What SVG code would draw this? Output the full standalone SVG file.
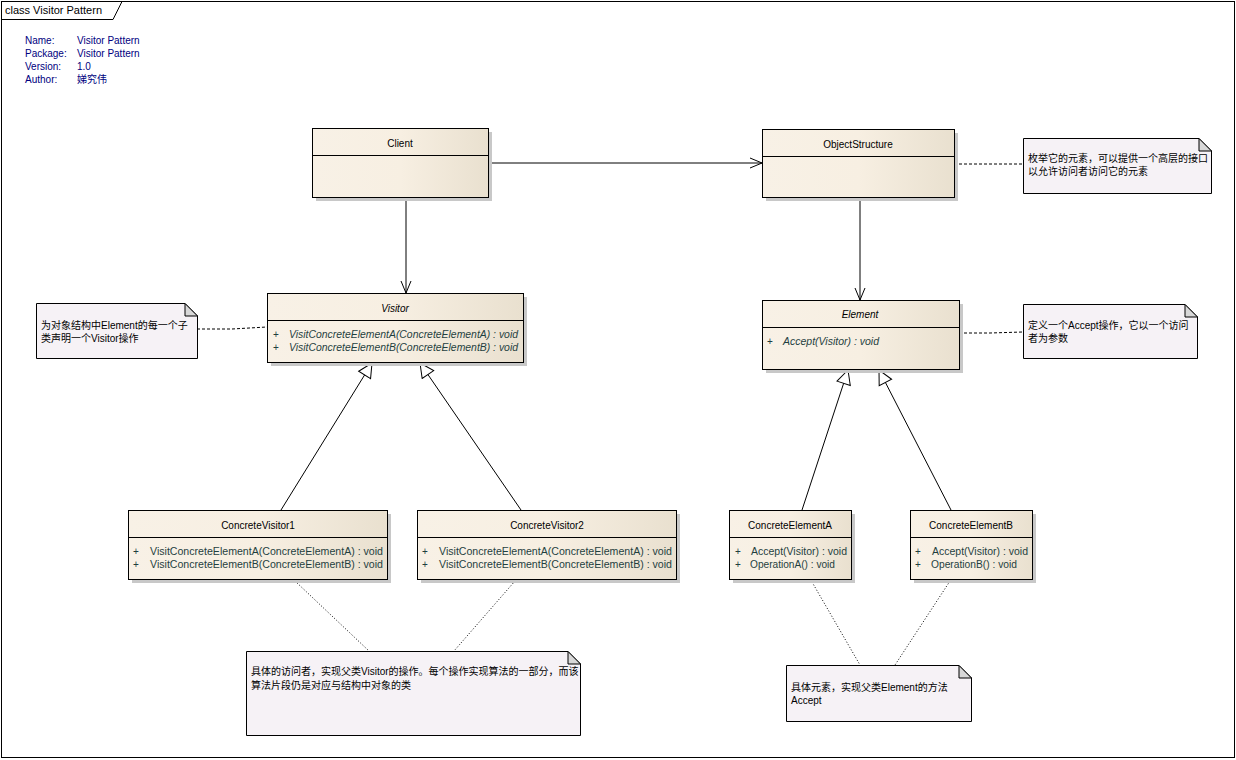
<svg xmlns="http://www.w3.org/2000/svg" width="1236" height="760" viewBox="0 0 1236 760">
<defs>
<linearGradient id="cls" x1="0" y1="0" x2="1" y2="0">
<stop offset="0" stop-color="#f8f1e6"/>
<stop offset="0.5" stop-color="#f7efe2"/>
<stop offset="1" stop-color="#e9e0cf"/>
</linearGradient>
<marker id="open" viewBox="0 0 12 12" refX="12" refY="6" markerWidth="12" markerHeight="12" markerUnits="userSpaceOnUse" orient="auto">
<path d="M0,1 L12,6 L0,11" fill="none" stroke="#000" stroke-width="1"/>
</marker>
<marker id="tri" viewBox="0 0 16 16" refX="15" refY="8" markerWidth="16" markerHeight="16" markerUnits="userSpaceOnUse" orient="auto">
<path d="M1,1 L15,8 L1,15 Z" fill="#fff" stroke="#000" stroke-width="1"/>
</marker>
</defs>
<style>
text{font-family:"Liberation Sans","DejaVu Sans","Noto Sans CJK SC",sans-serif;font-size:10px}
.t{fill:#000}
.ti{fill:#000;font-style:italic}
.op{fill:#1f3f3f}
.opi{fill:#1f3f3f;font-style:italic}
.info{fill:#000080}
.note text{fill:#000}
.box{fill:url(#cls);stroke:#000;stroke-width:1}
.sh{fill:#c8c8c8}
.div{stroke:#000;stroke-width:1}
.nf{fill:#f6f2f6;stroke:#000;stroke-width:1}
.ear{fill:#d8d8d8;stroke:#000;stroke-width:1}
.assoc{stroke:#000;stroke-width:1;fill:none;marker-end:url(#open)}
.gen{stroke:#000;stroke-width:1;fill:none;marker-end:url(#tri)}
.nl{stroke:#000;stroke-width:1;fill:none;stroke-dasharray:3,2}
.dl{stroke:#000;stroke-width:1;fill:none;stroke-dasharray:1,2}
</style>
<rect x="0" y="0" width="1236" height="760" fill="#fff"/>
<g id="frame">
<rect x="1.5" y="1.5" width="1233" height="756" fill="none" stroke="#000"/>
<path d="M1.5,19.5 H113 L122,1.5" fill="none" stroke="#000"/>
<text x="5" y="14" class="t" style="font-size:11px">class Visitor Pattern</text>
</g>
<g id="info">
<text x="25" y="44" class="info">Name:</text><text x="77" y="44" class="info">Visitor Pattern</text>
<text x="25" y="57" class="info">Package:</text><text x="77" y="57" class="info">Visitor Pattern</text>
<text x="25" y="70" class="info">Version:</text><text x="77" y="70" class="info">1.0</text>
<text x="25" y="83" class="info">Author:</text><text x="77" y="83" class="info">娣究伟</text>
</g>
<g id="connectors">
<path class="assoc" d="M488,163 H762"/>
<path class="assoc" d="M406,197 V293"/>
<path class="assoc" d="M860,197 V300"/>
<path class="gen" d="M281,510 L372,363"/>
<path class="gen" d="M521,510 L420,363"/>
<path class="gen" d="M802,510 L848,370"/>
<path class="gen" d="M951,510 L879,370"/>
<path class="nl" d="M197,329 H232 L267,327"/>
<path class="nl" d="M954,164 H1023"/>
<path class="nl" d="M959,333 H990 L1023,332"/>
<path class="dl" d="M295,581 L369,651"/>
<path class="dl" d="M515,581 L454,651"/>
<path class="dl" d="M812,582 L860,665"/>
<path class="dl" d="M950,581 L895,665"/>
</g>
<g id="Client">
<rect class="sh" x="316" y="132" width="176" height="69"/>
<rect class="box" x="312.5" y="128.5" width="176" height="69"/>
<line class="div" x1="312.5" y1="155.5" x2="488.5" y2="155.5"/>
<text x="400" y="147" class="t" text-anchor="middle">Client</text>
</g>
<g id="ObjectStructure">
<rect class="sh" x="766" y="133" width="192" height="68"/>
<rect class="box" x="762.5" y="129.5" width="192" height="68"/>
<line class="div" x1="762.5" y1="156.5" x2="954.5" y2="156.5"/>
<text x="858" y="148" class="t" text-anchor="middle">ObjectStructure</text>
</g>
<g id="Visitor">
<rect class="sh" x="271" y="297" width="256" height="69"/>
<rect class="box" x="267.5" y="293.5" width="256" height="69"/>
<line class="div" x1="267.5" y1="320.5" x2="523.5" y2="320.5"/>
<text x="395" y="312" class="ti" text-anchor="middle">Visitor</text>
<text x="273" y="338" class="op">+</text>
<text x="289" y="338" class="opi" textLength="229" lengthAdjust="spacingAndGlyphs">VisitConcreteElementA(ConcreteElementA) : void</text>
<text x="273" y="351" class="op">+</text>
<text x="289" y="351" class="opi" textLength="229" lengthAdjust="spacingAndGlyphs">VisitConcreteElementB(ConcreteElementB) : void</text>
</g>
<g id="Element">
<rect class="sh" x="766" y="304" width="197" height="69"/>
<rect class="box" x="762.5" y="300.5" width="197" height="69"/>
<line class="div" x1="762.5" y1="327.5" x2="959.5" y2="327.5"/>
<text x="860" y="318" class="ti" text-anchor="middle">Element</text>
<text x="767" y="345" class="op">+</text>
<text x="783" y="345" class="opi" textLength="96" lengthAdjust="spacingAndGlyphs">Accept(Visitor) : void</text>
</g>
<g id="ConcreteVisitor1">
<rect class="sh" x="132" y="514" width="259" height="69"/>
<rect class="box" x="128.5" y="510.5" width="259" height="69"/>
<line class="div" x1="128.5" y1="537.5" x2="387.5" y2="537.5"/>
<text x="258" y="529" class="t" text-anchor="middle">ConcreteVisitor1</text>
<text x="133" y="555" class="op">+</text>
<text x="150" y="555" class="op" textLength="233" lengthAdjust="spacingAndGlyphs">VisitConcreteElementA(ConcreteElementA) : void</text>
<text x="133" y="568" class="op">+</text>
<text x="150" y="568" class="op" textLength="233" lengthAdjust="spacingAndGlyphs">VisitConcreteElementB(ConcreteElementB) : void</text>
</g>
<g id="ConcreteVisitor2">
<rect class="sh" x="421" y="514" width="259" height="69"/>
<rect class="box" x="417.5" y="510.5" width="259" height="69"/>
<line class="div" x1="417.5" y1="537.5" x2="676.5" y2="537.5"/>
<text x="547" y="529" class="t" text-anchor="middle">ConcreteVisitor2</text>
<text x="422" y="555" class="op">+</text>
<text x="439" y="555" class="op" textLength="233" lengthAdjust="spacingAndGlyphs">VisitConcreteElementA(ConcreteElementA) : void</text>
<text x="422" y="568" class="op">+</text>
<text x="439" y="568" class="op" textLength="233" lengthAdjust="spacingAndGlyphs">VisitConcreteElementB(ConcreteElementB) : void</text>
</g>
<g id="ConcreteElementA">
<rect class="sh" x="733" y="514" width="122" height="69"/>
<rect class="box" x="729.5" y="510.5" width="122" height="69"/>
<line class="div" x1="729.5" y1="537.5" x2="851.5" y2="537.5"/>
<text x="790" y="529" class="t" text-anchor="middle">ConcreteElementA</text>
<text x="735" y="555" class="op">+</text>
<text x="751" y="555" class="op" textLength="96" lengthAdjust="spacingAndGlyphs">Accept(Visitor) : void</text>
<text x="735" y="568" class="op">+</text>
<text x="750" y="568" class="op" textLength="85" lengthAdjust="spacingAndGlyphs">OperationA() : void</text>
</g>
<g id="ConcreteElementB">
<rect class="sh" x="914" y="514" width="122" height="69"/>
<rect class="box" x="910.5" y="510.5" width="122" height="69"/>
<line class="div" x1="910.5" y1="537.5" x2="1032.5" y2="537.5"/>
<text x="971" y="529" class="t" text-anchor="middle">ConcreteElementB</text>
<text x="915" y="555" class="op">+</text>
<text x="932" y="555" class="op" textLength="96" lengthAdjust="spacingAndGlyphs">Accept(Visitor) : void</text>
<text x="915" y="568" class="op">+</text>
<text x="931" y="568" class="op" textLength="86" lengthAdjust="spacingAndGlyphs">OperationB() : void</text>
</g>
<g id="note1" class="note">
<path class="nf" d="M36.5,303.5 H185 L197.5,316 V358.5 H36.5 Z"/>
<path class="ear" d="M185,303.5 V316 H197.5 Z"/>
<text x="41" y="329">为对象结构中Element的每一个子</text>
<text x="41" y="342">类声明一个Visitor操作</text>
</g>
<g id="note2" class="note">
<path class="nf" d="M1023.5,138.5 H1199 L1211.5,151 V193.5 H1023.5 Z"/>
<path class="ear" d="M1199,138.5 V151 H1211.5 Z"/>
<text x="1028" y="162">枚举它的元素，可以提供一个高层的接口</text>
<text x="1028" y="175">以允许访问者访问它的元素</text>
</g>
<g id="note3" class="note">
<path class="nf" d="M1023.5,304.5 H1185 L1197.5,317 V358.5 H1023.5 Z"/>
<path class="ear" d="M1185,304.5 V317 H1197.5 Z"/>
<text x="1028" y="329">定义一个Accept操作，它以一个访问</text>
<text x="1028" y="342">者为参数</text>
</g>
<g id="note4" class="note">
<path class="nf" d="M246.5,651.5 H568 L580.5,664 V735.5 H246.5 Z"/>
<path class="ear" d="M568,651.5 V664 H580.5 Z"/>
<text x="251" y="675">具体的访问者，实现父类Visitor的操作。每个操作实现算法的一部分，而该</text>
<text x="251" y="689">算法片段仍是对应与结构中对象的类</text>
</g>
<g id="note5" class="note">
<path class="nf" d="M786.5,665.5 H959 L971.5,678 V721.5 H786.5 Z"/>
<path class="ear" d="M959,665.5 V678 H971.5 Z"/>
<text x="791" y="691">具体元素，实现父类Element的方法</text>
<text x="791" y="704">Accept</text>
</g>
</svg>
